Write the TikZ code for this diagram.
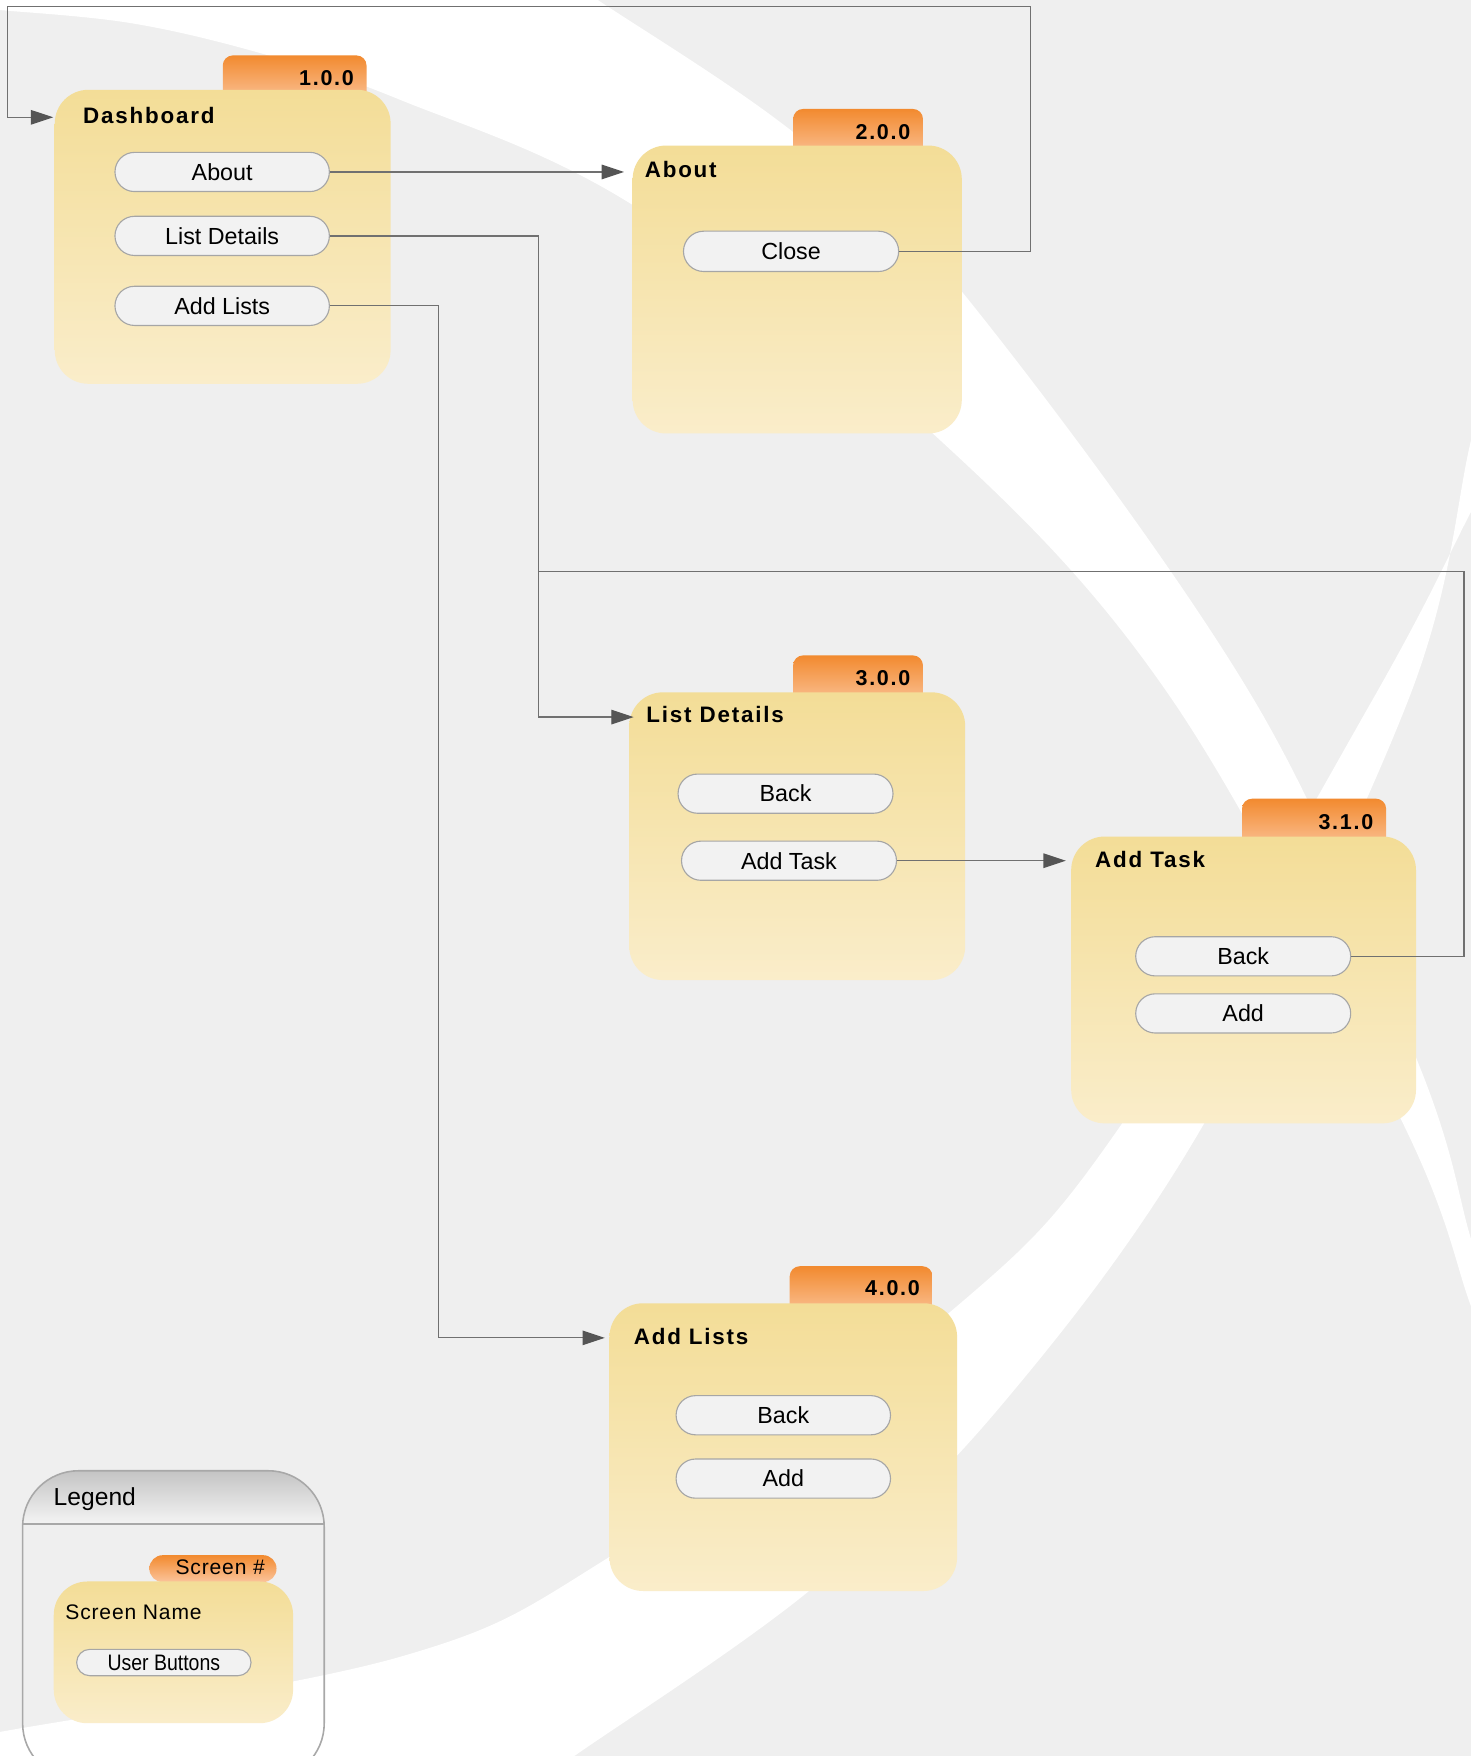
\documentclass[tikz,border=0pt]{standalone}
\usepackage{fontspec}
\setmainfont{Liberation Sans}
\newfontfamily\lsans[LetterSpace=8]{Liberation Sans}
\newfontfamily\lsanslt[LetterSpace=4]{Liberation Sans}
\usetikzlibrary{arrows.meta}
\newcommand\ttlf{\lsans\bfseries\fontsize{10pt}{12pt}\selectfont}
\newcommand\tabf{\lsans\bfseries\fontsize{9.6pt}{11pt}\selectfont}
\newcommand\btnf{\fontsize{10.4pt}{12pt}\selectfont}
\newcommand\legf{\fontsize{11pt}{13pt}\selectfont}
\newcommand\lgsf{\lsanslt\fontsize{9.4pt}{11pt}\selectfont}
\definecolor{bggray}{HTML}{EFEFEF}
\definecolor{boxtop}{HTML}{F3DD97}
\definecolor{boxbot}{HTML}{FAEDCA}
\definecolor{tabtop}{HTML}{F28A2F}
\definecolor{tabbot}{HTML}{FBC49B}
\definecolor{btnfill}{HTML}{F2F2F2}
\definecolor{btnline}{HTML}{A6A6A6}
\definecolor{linec}{HTML}{707070}
\definecolor{arrowc}{HTML}{555555}
\definecolor{legtop}{HTML}{C4C4C4}
\definecolor{legbot}{HTML}{F4F4F4}
\definecolor{legline}{HTML}{A8A8A8}
\tikzset{
  screen/.style={anchor=north west, inner sep=0pt, rounded corners=15pt, top color=boxtop, bottom color=boxbot, draw=none},
  tabbox/.style={anchor=north west, inner sep=0pt, rounded corners=4.5pt, top color=tabtop, bottom color=tabbot, draw=none},
  btn/.style={draw=btnline, fill=btnfill, line width=0.5pt, inner sep=0pt, rounded corners=8.7pt, minimum height=17.5pt, minimum width=95.75pt, font=\btnf},
  ttl/.style={anchor=base west, inner sep=0pt, font=\ttlf},
  tabnum/.style={anchor=base east, inner sep=0pt, font=\tabf},
  conn/.style={draw=linec, line width=0.55pt},
  arr/.style={conn, -{Triangle[length=10pt,width=6.5pt,color=arrowc]}},
}
\begin{document}
\begin{tikzpicture}[x=0.5pt,y=-0.5pt]
\useasboundingbox (0,0) rectangle (1314,1568.5);
\clip (0,0) rectangle (1314,1568.5);
% background
\fill[bggray] (0,0) rectangle (1314,1568.5);
\fill[white] plot[smooth,tension=0.6] coordinates {(-20,8) (0,9) (119,21) (238,49) (357,89) (565,183) (833,387) (1047,625) (1251,999) (1314,1167) (1340,1236)}
  -- plot[smooth,tension=0.6] coordinates {(1340,1194) (1314,1107) (1267,950) (1120,625) (858,259) (711,120) (534,0) (510,-16)}
  -- (-20,-16) -- cycle;
\fill[white] plot[smooth,tension=0.6] coordinates {(-20,1550) (0,1547) (357,1480) (547,1389) (845,1175) (1004,1001) (1226,625) (1314,457) (1340,407)}
  -- plot[smooth,tension=0.6] coordinates {(1340,286) (1314,393) (1258,625) (1077,1001) (893,1257) (724,1420) (513,1568.5) (490,1585)}
  -- (-20,1585) -- cycle;

% tabs
\node[tabbox, minimum width=64.2pt, minimum height=21.35pt] (t1) at (198.6,49.1) {};
\node[tabbox, minimum width=58pt, minimum height=22.35pt] (t2) at (708,96.9) {};
\node[tabbox, minimum width=58pt, minimum height=22.5pt] (t3) at (708,585) {};
\node[tabbox, minimum width=64.35pt, minimum height=22.9pt] (t31) at (1109,713) {};
\node[tabbox, minimum width=63.75pt, minimum height=22.55pt] (t4) at (705,1130.6) {};
\node[tabnum] (n1) at (316.5,76.4) {1.0.0};
\node[tabnum] (n2) at (813.5,124.2) {2.0.0};
\node[tabnum] (n3) at (813.5,612.3) {3.0.0};
\node[tabnum] (n31) at (1227,740.5) {3.1.0};
\node[tabnum] (n4) at (822,1157.6) {4.0.0};

% screens
\node[screen, minimum width=150pt, minimum height=131.3pt] (dash) at (48.5,79.8) {};
\node[screen, minimum width=147pt, minimum height=128.6pt] (about) at (564.7,129.6) {};
\node[screen, minimum width=150pt, minimum height=128.5pt] (list) at (561.7,618) {};
\node[screen, minimum width=154pt, minimum height=128.1pt] (task) at (956.4,746.8) {};
\node[screen, minimum width=155.25pt, minimum height=128.5pt] (addl) at (544,1163.7) {};

% titles
\node[ttl] (dashT) at (73.9,110.2) {Dashboard};
\node[ttl] (aboutT) at (575.6,158.4) {About};
\node[ttl] (listT) at (577,645.7) {List Details};
\node[ttl] (taskT) at (977.8,775) {Add Task};
\node[ttl] (addlT) at (565.8,1200.8) {Add Lists};

% buttons
\node[btn] (dAbout) at (198.45,153.6) {About};
\node[btn] (dList) at (198.45,210.7) {List Details};
\node[btn] (dAdd) at (198.45,273.2) {Add Lists};
\node[btn, minimum width=96.1pt, minimum height=18pt, rounded corners=9pt] (aClose) at (706.6,224.5) {Close};
\node[btn, minimum width=96pt] (lBack) at (701.65,708.9) {Back};
\node[btn, minimum width=96pt] (lTask) at (704.75,768.8) {Add Task};
\node[btn, minimum width=96pt] (tBack) at (1110.45,854.2) {Back};
\node[btn, minimum width=96pt] (tAdd) at (1110.45,905.2) {Add};
\node[btn, minimum width=95.75pt] (aBack) at (699.65,1264.1) {Back};
\node[btn, minimum width=95.75pt] (aAdd) at (699.65,1320.7) {Add};

% connector points
\coordinate (topR) at (920.5,6);
\coordinate (topL) at (6.6,6);
\coordinate (dashIn) at (47.6,104.8);
\coordinate (aboutIn) at (557.4,153.6);
\coordinate (listBend) at (481,640.5);
\coordinate (listIn) at (566,640.5);
\coordinate (addlBend) at (391.4,1195);
\coordinate (addlIn) at (540.3,1195);
\coordinate (taskIn) at (952,768.8);
\coordinate (backR) at (1307.7,510.4);
\coordinate (junc) at (481,510.4);

% connectors
\draw[arr] (aClose.east) -| (topR) -- (topL) |- (dashIn);
\draw[arr] (dAbout.east) -- (aboutIn);
\draw[arr] (dList.east) -| (listBend) -- (listIn);
\draw[arr] (dAdd.east) -| (addlBend) -- (addlIn);
\draw[arr] (lTask.east) -- (taskIn);
\draw[conn] (tBack.east) -| (backR) -- (junc);

% legend
\node[anchor=north west, inner sep=0pt, minimum width=134.3pt, minimum height=137.4pt] (legend) at (20.2,1313.7) {};
\coordinate (hdr) at (0,1361.3);
\begin{scope}
  \clip[rounded corners=25pt] (legend.north west) rectangle (legend.south east);
  \shade[top color=legtop, bottom color=legbot] (legend.north west) rectangle (legend.east |- hdr);
\end{scope}
\draw[legline, line width=0.7pt] (legend.west |- hdr) -- (legend.east |- hdr);
\draw[legline, line width=0.7pt, rounded corners=25pt] (legend.north west) rectangle (legend.south east);
\node[anchor=base west, inner sep=0pt, font=\legf] (legT) at (47.6,1344.5) {Legend};
\node[anchor=north west, inner sep=0pt, rounded corners=6pt, top color=tabtop, bottom color=tabbot, minimum width=56.8pt, minimum height=12pt] (legTab) at (133,1388.7) {};
\node[anchor=base east, inner sep=0pt, font=\lgsf] (legTabT) at (237,1406) {Screen \#};
\node[screen, minimum width=106.9pt, minimum height=63.3pt] (legBox) at (47.6,1412.2) {};
\node[anchor=base west, inner sep=0pt, font=\lgsf] (legName) at (58,1446.5) {Screen Name};
\node[btn, minimum width=77.85pt, minimum height=11.75pt, rounded corners=5.8pt, font=\fontsize{10pt}{12pt}\selectfont] (legBtn) at (146.35,1485) {\scalebox{0.87}[1]{User Buttons}};
\end{tikzpicture}
\end{document}
